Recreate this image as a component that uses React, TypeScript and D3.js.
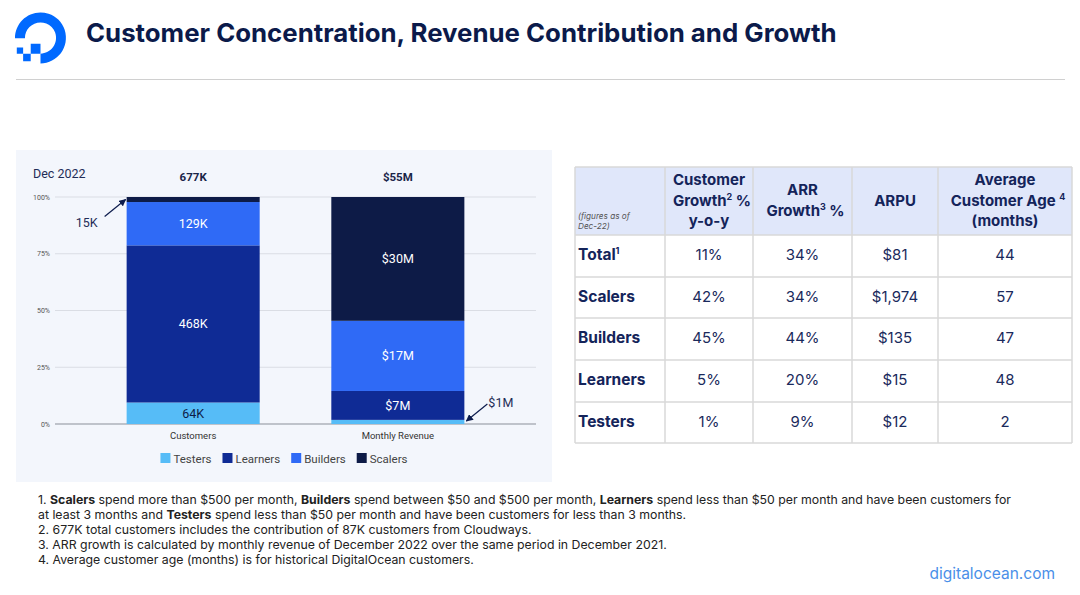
import React from "react";
import * as d3 from "d3";

// chart data
const segments = ["Testers", "Learners", "Builders", "Scalers"];
const categories = ["Customers", "Monthly Revenue"];
const customerValues = [64, 468, 129, 15]; // thousands
const revenueValues = [1, 7, 17, 30]; // $M
const customerLabels = ["64K", "468K", "129K", "15K"];
const revenueLabels = ["$1M", "$7M", "$17M", "$30M"];
const totals = ["677K", "$55M"];
const yTicks = [0, 0.25, 0.5, 0.75, 1];

// table data
const tableRows = ["Total", "Scalers", "Builders", "Learners", "Testers"];
const customerGrowth = ["11%", "42%", "45%", "5%", "1%"];
const arrGrowth = ["34%", "34%", "44%", "20%", "9%"];
const arpu = ["$81", "$1,974", "$135", "$15", "$12"];
const customerAge = ["44", "57", "47", "48", "2"];

const colors: Record<string, string> = {
  Testers: "#56bcf7",
  Learners: "#0f2b95",
  Builders: "#2f6af6",
  Scalers: "#0d1b47",
};

const NAVY = "#0d1c4d";
const INTER = "Inter, 'Noto Sans', sans-serif";
const ROBOTO = "Roboto, Arial, sans-serif";

const measure = (() => {
  const c = document.createElement("canvas").getContext("2d")!;
  return (t: string, font: string) => {
    c.font = font;
    return c.measureText(t).width;
  };
})();

const Logo = () => (
  <g transform="translate(15,12.5) scale(0.782)" fill="#0069ff">
    <path d="M32.6 65.2v-12.6c13.3 0 23.7-13.2 18.6-27.2-1.9-5.2-6-9.3-11.2-11.2-14-5.1-27.3 5.2-27.3 18.6H0C0 11.3 20.6-5.4 42.9 1.6 52.7 4.7 60.5 12.4 63.5 22.2c7 22.4-9.6 43-30.9 43z" />
    <path d="M32.6 52.7H20.1V40.1h12.5zM20.1 62.3h-9.7v-9.6h9.7zM10.4 52.7H2.3v-8.1h8.1z" />
  </g>
);

const Chart = () => {
  const panel = { x: 16, y: 150, w: 536, h: 332 };
  const x = d3.scaleBand<string>().domain(categories).range([55, 536]).paddingInner(0.35).paddingOuter(0.35);
  const y = d3.scaleLinear().domain([0, 1]).range([424, 197]);

  const rows = categories.map((cat, i) => {
    const vals = i === 0 ? customerValues : revenueValues;
    const r: any = { cat };
    segments.forEach((s, j) => (r[s] = vals[j]));
    return r;
  });
  const stacked = d3.stack<any>().keys(segments).offset(d3.stackOffsetExpand)(rows);
  const labelsFor = [customerLabels, revenueLabels];

  // legend layout, centred on the panel
  const legendFont = `11.5px ${ROBOTO}`;
  const itemW = segments.map((s) => 10 + 3 + measure(s, legendFont) + 11);
  const legendW = d3.sum(itemW) - 11;
  let lx = panel.x + panel.w / 2 - legendW / 2;
  const legendX = itemW.map((w) => {
    const v = lx;
    lx += w;
    return v;
  });

  return (
    <g>
      <rect x={panel.x} y={panel.y} width={panel.w} height={panel.h} fill="#f3f6fc" />
      <text x={33} y={178} fontFamily={ROBOTO} fontSize={12.5} fill="#1f2d57">
        Dec 2022
      </text>
      {yTicks.map((t) => (
        <g key={t}>
          <line x1={55} x2={536} y1={y(t)} y2={y(t)} stroke={t === 0 ? "#8a8f99" : "#dadde4"} strokeWidth={1} />
          <text x={50} y={y(t) + 2.5} textAnchor="end" fontFamily={ROBOTO} fontSize={7} fill="#555">
            {`${t * 100}%`}
          </text>
        </g>
      ))}
      {stacked.map((layer, j) =>
        layer.map((d, i) => {
          const cat = categories[i];
          const x0 = x(cat)!;
          const y0 = y(d[1]);
          const h = y(d[0]) - y(d[1]);
          const label = labelsFor[i][j];
          const midY = y0 + h / 2;
          const inside = h > 15;
          let ann: React.ReactNode = null;
          if (!inside) {
            if (i === 0) {
              const tip = [x0 - 1, midY];
              const tail = [tip[0] - 21, tip[1] + 17];
              ann = (
                <g>
                  <line x1={tail[0]} y1={tail[1]} x2={tip[0]} y2={tip[1]} stroke={NAVY} strokeWidth={1.2} markerEnd="url(#arr)" />
                  <text x={tail[0] - 7} y={tail[1] + 10} textAnchor="end" fontFamily={ROBOTO} fontSize={12.5} fill="#1f2d57">
                    {label}
                  </text>
                </g>
              );
            } else {
              const tip = [x0 + x.bandwidth() + 2, midY - 1];
              const tail = [tip[0] + 21, tip[1] - 17];
              ann = (
                <g>
                  <line x1={tail[0]} y1={tail[1]} x2={tip[0]} y2={tip[1]} stroke={NAVY} strokeWidth={1.2} markerEnd="url(#arr)" />
                  <text x={tail[0] + 1} y={tail[1] + 3} fontFamily={ROBOTO} fontSize={12.5} fill="#1f2d57">
                    {label}
                  </text>
                </g>
              );
            }
          }
          return (
            <g key={`${j}-${i}`}>
              <rect x={x0} y={y0} width={x.bandwidth()} height={h} fill={colors[segments[j]]} />
              {inside && (
                <text
                  x={x0 + x.bandwidth() / 2}
                  y={midY + 4.5}
                  textAnchor="middle"
                  fontFamily={ROBOTO}
                  fontSize={12.5}
                  fill={segments[j] === "Testers" ? "#0d1b47" : "#ffffff"}
                >
                  {label}
                </text>
              )}
              {ann}
            </g>
          );
        })
      )}
      {categories.map((c, i) => (
        <g key={c}>
          <text x={x(c)! + x.bandwidth() / 2} y={181} textAnchor="middle" fontFamily={ROBOTO} fontWeight="bold" fontSize={11.5} fill="#1a2548">
            {totals[i]}
          </text>
          <text x={x(c)! + x.bandwidth() / 2} y={439} textAnchor="middle" fontFamily={ROBOTO} fontSize={9.5} fill="#333">
            {c}
          </text>
        </g>
      ))}
      {segments.map((s, i) => (
        <g key={s} transform={`translate(${legendX[i]},453)`}>
          <rect width={10} height={10} fill={colors[s]} />
          <text x={13} y={9.5} fontFamily={ROBOTO} fontSize={11.5} fill="#444">
            {s}
          </text>
        </g>
      ))}
    </g>
  );
};

const Table = () => {
  const colEdges = [575, 665, 753, 852, 938, 1072];
  const rowEdges = [167, 235, 277, 318, 360, 402, 443];
  const cx = (i: number) => (colEdges[i] + colEdges[i + 1]) / 2;
  const cols = [customerGrowth, arrGrowth, arpu, customerAge];
  const hStyle = { fontFamily: INTER, fontWeight: 700, fontSize: 15, fill: "#14245a" } as const;
  return (
    <g>
      <rect x={575} y={167} width={497} height={68} fill="#e0e7fa" />
      <rect x={575} y={235} width={497} height={208} fill="#ffffff" />
      {rowEdges.map((r) => (
        <line key={r} x1={575} x2={1072} y1={r} y2={r} stroke="#d9d9d9" strokeWidth={1.5} />
      ))}
      {colEdges.map((c) => (
        <line key={c} x1={c} x2={c} y1={167} y2={443} stroke="#d9d9d9" strokeWidth={1.5} />
      ))}
      <text x={578} y={219} fontFamily={INTER} fontStyle="italic" fontSize={8.2} fill="#555">
        (figures as of
      </text>
      <text x={578} y={228.5} fontFamily={INTER} fontStyle="italic" fontSize={8.2} fill="#555">
        Dec-22)
      </text>
      <text textAnchor="middle" {...hStyle}>
        <tspan x={cx(1)} y={185}>Customer</tspan>
        <tspan x={cx(1) + 3} y={206}>
          Growth<tspan dy={-6} fontSize={9}>2</tspan>
          <tspan dy={6}> %</tspan>
        </tspan>
        <tspan x={cx(1)} y={226}>y-o-y</tspan>
      </text>
      <text textAnchor="middle" {...hStyle}>
        <tspan x={cx(2)} y={195}>ARR</tspan>
        <tspan x={cx(2) + 3} y={216}>
          Growth<tspan dy={-6} fontSize={9}>3</tspan>
          <tspan dy={6}> %</tspan>
        </tspan>
      </text>
      <text x={cx(3)} y={206} textAnchor="middle" {...hStyle}>
        ARPU
      </text>
      <text textAnchor="middle" {...hStyle}>
        <tspan x={cx(4)} y={185}>Average</tspan>
        <tspan x={cx(4) + 3} y={206}>
          Customer Age <tspan dy={-6} fontSize={9}>4</tspan>
          <tspan dy={6}></tspan>
        </tspan>
        <tspan x={cx(4)} y={226}>(months)</tspan>
      </text>
      {tableRows.map((r, i) => {
        const my = (rowEdges[i + 1] + rowEdges[i + 2]) / 2 + 4;
        return (
          <g key={r}>
            <text x={578} y={my} {...hStyle} fontSize={15.5}>
              {r}
              {i === 0 && (
                <tspan dy={-6} fontSize={9}>
                  1
                </tspan>
              )}
            </text>
            {cols.map((col, k) => (
              <text key={k} x={cx(k + 1)} y={my} textAnchor="middle" fontFamily={INTER} fontSize={15} fill="#1a2a5c">
                {col[i]}
              </text>
            ))}
          </g>
        );
      })}
    </g>
  );
};

const Notes = () => {
  const st = { fontFamily: INTER, fontSize: 12.3, fill: "#222" } as const;
  return (
    <g {...st}>
      <text x={38} y={504}>
        1. <tspan fontWeight={700}>Scalers</tspan> spend more than $500 per month, <tspan fontWeight={700}>Builders</tspan> spend between
        $50 and $500 per month, <tspan fontWeight={700}>Learners</tspan> spend less than $50 per month and have been customers for
      </text>
      <text x={38} y={519}>
        at least 3 months and <tspan fontWeight={700}>Testers</tspan> spend less than $50 per month and have been customers for less than 3
        months.
      </text>
      <text x={38} y={534}>2. 677K total customers includes the contribution of 87K customers from Cloudways.</text>
      <text x={38} y={549}>3. ARR growth is calculated by monthly revenue of December 2022 over the same period in December 2021.</text>
      <text x={38} y={564}>4. Average customer age (months) is for historical DigitalOcean customers.</text>
    </g>
  );
};

export default function App() {
  return (
    <div style={{ position: "absolute", left: 0, top: 0 }}>
      <svg width={1080} height={595} style={{ display: "block", background: "#fff" }}>
        <defs>
          <marker id="arr" viewBox="0 0 10 10" refX={9} refY={5} markerWidth={6} markerHeight={6} orient="auto">
            <path d="M0,0 L10,5 L0,10 z" fill={NAVY} />
          </marker>
        </defs>
        <Logo />
        <text x={86} y={42} fontFamily={INTER} fontWeight={700} fontSize={25.8} fill="#0b1a4a">
          Customer Concentration, Revenue Contribution and Growth
        </text>
        <line x1={16} x2={1065} y1={79.5} y2={79.5} stroke="#d0d0d0" strokeWidth={1} />
        <Chart />
        <Table />
        <Notes />
        <text x={1055} y={579} textAnchor="end" fontFamily={INTER} fontSize={15.5} fill="#4a8fe8">
          digitalocean.com
        </text>
      </svg>
    </div>
  );
}
